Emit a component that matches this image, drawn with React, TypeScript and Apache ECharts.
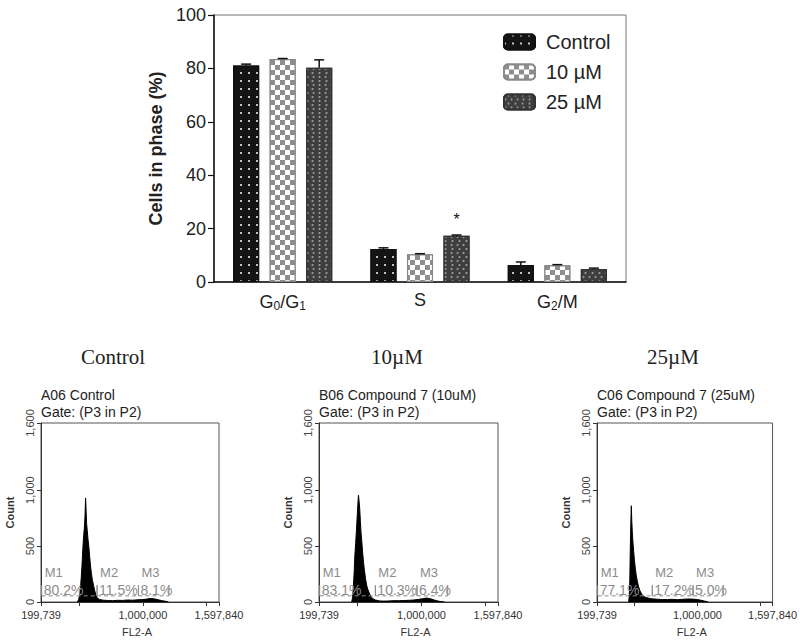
import React, { useEffect, useRef } from 'react';
import * as echarts from 'echarts';

// ---------- Top bar chart data ----------
const phaseCategories = ['G0/G1', 'S', 'G2/M'];
const seriesNames = ['Control', '10 µM', '25 µM'];
const controlPercent = [81.1, 12.4, 6.4];
const uM10Percent = [83.5, 10.4, 6.3];
const uM25Percent = [80.2, 17.3, 4.9];
const controlSem = [0.5, 0.4, 1.1];
const uM10Sem = [0.2, 0.2, 0.2];
const uM25Sem = [3.0, 0.3, 0.3];
const significanceMark = ['', '', ''];
const significanceMark25 = ['', '*', ''];
const percentTicks = [0, 20, 40, 60, 80, 100];

// ---------- Flow cytometry histograms (FL2-A value, count) ----------
const fl2Min = 199739;
const fl2Max = 1597840;
const fl2TickValues = [199739, 500000, 1000000, 1500000, 1597840];
const fl2LabelValues = [199739, 1000000, 1597840];
const countTickValues = [0, 500, 1000, 1600];

const controlHistogram = [
  [485000, 0], [495000, 20], [503000, 60], [510000, 130], [516000, 220], [522000, 330],
  [528000, 470], [534000, 580], [540000, 660], [545000, 760], [550000, 930], [554000, 820],
  [558000, 700], [563000, 640], [569000, 560], [575000, 500], [581000, 420], [588000, 330],
  [595000, 260], [603000, 200], [612000, 150], [622000, 100], [632000, 60], [642000, 35],
  [660000, 22], [690000, 16], [720000, 14], [760000, 12], [800000, 15], [840000, 14],
  [880000, 18], [920000, 16], [960000, 20], [1000000, 22], [1030000, 26], [1060000, 32],
  [1090000, 28], [1120000, 20], [1150000, 12], [1180000, 6], [1200000, 0]
];
const uM10Histogram = [
  [455000, 0], [462000, 40], [468000, 130], [474000, 260], [480000, 420], [486000, 520],
  [492000, 640], [498000, 760], [503000, 870], [508000, 955], [513000, 900], [518000, 830],
  [523000, 720], [528000, 620], [534000, 540], [540000, 450], [547000, 360], [555000, 280],
  [563000, 210], [572000, 150], [582000, 110], [592000, 80], [605000, 50], [620000, 30],
  [640000, 18], [670000, 10], [700000, 8], [740000, 9], [780000, 12], [820000, 12],
  [860000, 13], [900000, 15], [940000, 18], [980000, 24], [1010000, 30], [1040000, 35],
  [1070000, 30], [1100000, 18], [1130000, 8], [1160000, 3], [1180000, 0]
];
const uM25Histogram = [
  [452000, 0], [457000, 60], [461000, 200], [465000, 480], [469000, 700], [473000, 860],
  [477000, 720], [482000, 600], [487000, 520], [492000, 450], [498000, 370], [505000, 300],
  [512000, 240], [520000, 190], [530000, 140], [542000, 100], [556000, 70], [572000, 50],
  [590000, 40], [615000, 33], [640000, 28], [680000, 25], [720000, 22], [760000, 22],
  [800000, 24], [840000, 21], [880000, 24], [920000, 27], [960000, 26], [1000000, 22],
  [1030000, 15], [1060000, 7], [1085000, 0]
];

// M1 / M2 / M3 gates and their percentages
const gateNames = ['M1', 'M2', 'M3'];
const gateStarts = [205000, 640000, 965000];
const gateEnds = [640000, 965000, 1205000];
const controlGatePct = ['80.2%', '11.5%', '8.1%'];
const uM10GatePct = ['83.1%', '10.3%', '6.4%'];
const uM25GatePct = ['77.1%', '17.2%', '5.0%'];

const panelTitles = ['A06 Control', 'B06 Compound 7 (10uM)', 'C06 Compound 7 (25uM)'];
const panelGate = 'Gate: (P3 in P2)';
const columnHeadings = ['Control', '10µM', '25µM'];

const SANS = '"Liberation Sans", Arial, Helvetica, sans-serif';
const SERIF = '"Liberation Serif", "Times New Roman", serif';

function phaseLabel(v: string): string {
  let out = '';
  let buf = '';
  for (let i = 0; i < v.length; i++) {
    const c = v[i];
    if (/\d/.test(c) && i > 0 && v[i - 1] === 'G') {
      if (buf) out += '{n|' + buf + '}';
      buf = '';
      out += '{s|' + c + '}';
    } else {
      buf += c;
    }
  }
  if (buf) out += '{n|' + buf + '}';
  return out;
}

export default function App() {
  const ref = useRef<HTMLDivElement>(null);

  useEffect(() => {
    if (!ref.current) return;
    const chart = echarts.init(ref.current, undefined, { renderer: 'svg' });

    const barValues = [controlPercent, uM10Percent, uM25Percent];
    const semValues = [controlSem, uM10Sem, uM25Sem];
    const marks = [significanceMark, significanceMark, significanceMark25];

    const decals: any[] = [
      { symbol: 'rect', symbolSize: 1, color: 'rgba(255,255,255,0.75)', dashArrayX: [1.6, 5.4], dashArrayY: [1.6, 5.4] },
      { symbol: 'rect', symbolSize: 1, color: '#ffffff', dashArrayX: [[4.5, 4.5], [0, 4.5, 4.5, 0]], dashArrayY: [4.5, 0] },
      { symbol: 'circle', symbolSize: 1, color: '#9a9a9a', dashArrayX: [[2.5, 3], [0, 2.75, 2.5, 0.25]], dashArrayY: [2, 1.5] }
    ];
    const barColors = ['#141414', '#8e8e8e', '#3e3e3e'];
    const borderColors = ['#111', '#8a8a8a', '#333'];

    const barSeries: any[] = seriesNames.map((name, i) => ({
      type: 'bar',
      name,
      xAxisIndex: 0,
      yAxisIndex: 0,
      barWidth: '19%',
      barGap: '40%',
      data: barValues[i].map((v, j) =>
        marks[i][j]
          ? { value: v, label: { show: true, position: 'top', distance: 8, formatter: marks[i][j], fontSize: 16, color: '#111', fontFamily: SANS } }
          : v
      ),
      itemStyle: { color: barColors[i], borderColor: borderColors[i], borderWidth: 1.2, decal: decals[i] },
      emphasis: { disabled: true }
    }));

    const errorSeries: any[] = seriesNames.map((name, i) => ({
      type: 'custom',
      name: name + ' err',
      xAxisIndex: 0,
      yAxisIndex: 0,
      z: 5,
      silent: true,
      data: barValues[i].map((v, j) => [j, v, v + semValues[i][j]]),
      encode: { x: 0, y: [1, 2] },
      renderItem: (params: any, api: any) => {
        const band = api.size([1, 0])[0];
        const bw = band * 0.19;
        const off = (i - 1) * 1.4 * bw;
        const base = api.coord([api.value(0), api.value(1)]);
        const top = api.coord([api.value(0), api.value(2)]);
        const x = base[0] + off;
        const cap = 5;
        return {
          type: 'group',
          children: [
            { type: 'line', shape: { x1: x, y1: base[1], x2: x, y2: top[1] }, style: { stroke: '#111', lineWidth: 1.5 } },
            { type: 'line', shape: { x1: x - cap, y1: top[1], x2: x + cap, y2: top[1] }, style: { stroke: '#111', lineWidth: 1.5 } }
          ]
        };
      }
    }));

    const histData = [controlHistogram, uM10Histogram, uM25Histogram];
    const gatePcts = [controlGatePct, uM10GatePct, uM25GatePct];

    const histSeries: any[] = histData.map((d, k) => ({
      type: 'line',
      name: 'hist' + k,
      xAxisIndex: k + 1,
      yAxisIndex: k + 1,
      data: d,
      symbol: 'none',
      lineStyle: { color: '#000', width: 1 },
      areaStyle: { color: '#000', opacity: 1 },
      z: 3,
      silent: true
    }));

    const markerY = 55;
    const bracketTop = 150;
    const nameY = 262;
    const pctY = 108;
    const markerSeries: any[] = gatePcts.map((pcts, k) => ({
      type: 'custom',
      name: 'gates' + k,
      xAxisIndex: k + 1,
      yAxisIndex: k + 1,
      z: 4,
      silent: true,
      data: gateStarts.map((s, g) => [s, gateEnds[g], markerY]),
      encode: { x: [0, 1], y: 2 },
      renderItem: (params: any, api: any) => {
        const g = params.dataIndex;
        const s = api.coord([api.value(0), markerY]);
        const e = api.coord([api.value(1), markerY]);
        const bt = api.coord([api.value(0), bracketTop]);
        const ny = api.coord([api.value(0), nameY]);
        const py = api.coord([api.value(0), pctY]);
        const gray = '#8c8c8c';
        return {
          type: 'group',
          children: [
            { type: 'line', shape: { x1: s[0], y1: s[1], x2: e[0], y2: e[1] }, style: { stroke: gray, lineWidth: 1, lineDash: [4, 3] } },
            { type: 'line', shape: { x1: s[0], y1: s[1], x2: s[0], y2: bt[1] }, style: { stroke: gray, lineWidth: 1 } },
            { type: 'line', shape: { x1: e[0], y1: e[1], x2: e[0], y2: bt[1] }, style: { stroke: gray, lineWidth: 1 } },
            { type: 'text', x: s[0] + 3, y: ny[1], style: { text: gateNames[g], fill: gray, font: '13px ' + SANS, textVerticalAlign: 'middle' } },
            { type: 'text', x: s[0] + 2, y: py[1], style: { text: pcts[g], fill: gray, font: '14px ' + SANS, textVerticalAlign: 'middle' } }
          ]
        };
      }
    }));

    const histGrids = [
      { left: 41, top: 423, width: 178, height: 179 },
      { left: 319, top: 423, width: 179, height: 179 },
      { left: 597, top: 423, width: 179, height: 179 }
    ];

    const fmt = (v: number) => Math.round(v).toLocaleString('en-US');

    const histXAxes = histGrids.map((_, k) => ({
      type: 'value',
      gridIndex: k + 1,
      min: fl2Min,
      max: fl2Max,
      name: 'FL2-A',
      nameLocation: 'middle',
      nameGap: 24,
      nameTextStyle: { fontSize: 11, color: '#333', fontFamily: SANS, padding: [0, 0, 0, 14] },
      axisLine: { lineStyle: { color: '#333', width: 1 } },
      axisTick: { show: true, inside: false, length: 4, lineStyle: { color: '#333' }, customValues: fl2TickValues },
      axisLabel: { fontSize: 11, color: '#333', fontFamily: SANS, margin: 7, customValues: fl2LabelValues, formatter: fmt },
      splitLine: { show: false }
    }));
    const histYAxes = histGrids.map((_, k) => ({
      type: 'value',
      gridIndex: k + 1,
      min: 0,
      max: 1600,
      name: 'Count',
      nameLocation: 'middle',
      nameGap: 26,
      nameTextStyle: { fontSize: 11, color: '#333', fontFamily: SANS, fontWeight: 'bold' },
      axisLine: { show: true, lineStyle: { color: '#333', width: 1 } },
      axisTick: { show: true, length: 4, lineStyle: { color: '#333' }, customValues: countTickValues },
      axisLabel: { fontSize: 11, color: '#444', fontFamily: SANS, rotate: 90, margin: 6, customValues: countTickValues, formatter: fmt },
      splitLine: { show: false }
    }));

    const titles: any[] = panelTitles.map((t, k) => ({
      text: t,
      subtext: panelGate,
      left: histGrids[k].left,
      top: 388,
      padding: 0,
      itemGap: 3,
      textStyle: { fontSize: 14, fontWeight: 'normal', color: '#222', fontFamily: SANS },
      subtextStyle: { fontSize: 14, color: '#222', fontFamily: SANS }
    }));

    const headingX = [113, 397, 673];
    const graphics: any[] = columnHeadings.map((h, k) => ({
      type: 'text',
      x: headingX[k],
      y: 357,
      style: { text: h, font: '21px ' + SERIF, fill: '#222', textAlign: 'center', textVerticalAlign: 'middle' }
    }));

    chart.setOption({
      animation: false,
      backgroundColor: '#ffffff',
      title: titles,
      graphic: graphics,
      legend: {
        data: seriesNames,
        orient: 'vertical',
        left: 498,
        top: 27,
        itemWidth: 31,
        itemHeight: 15,
        itemGap: 10,
        selectedMode: false,
        textStyle: { fontSize: 20, color: '#222', fontFamily: SANS, padding: [0, 0, 0, 6] }
      },
      grid: [
        { left: 214, top: 15, width: 412, height: 267, show: true, borderColor: '#777', borderWidth: 1 },
        ...histGrids.map((g) => ({ ...g, show: true, borderColor: '#555', borderWidth: 1 }))
      ],
      xAxis: [
        {
          type: 'category',
          gridIndex: 0,
          data: phaseCategories,
          axisLine: { lineStyle: { color: '#111', width: 1.5 } },
          axisTick: { show: false },
          axisLabel: {
            margin: 9,
            formatter: (v: string) => phaseLabel(v),
            rich: {
              n: { fontSize: 18, color: '#222', fontFamily: SANS },
              s: { fontSize: 12, color: '#222', fontFamily: SANS, padding: [9, 0, 0, 0] }
            }
          }
        },
        ...histXAxes
      ],
      yAxis: [
        {
          type: 'value',
          gridIndex: 0,
          min: 0,
          max: 100,
          interval: 20,
          name: 'Cells in phase (%)',
          nameLocation: 'middle',
          nameGap: 46,
          nameTextStyle: { fontSize: 18, fontWeight: 'bold', color: '#222', fontFamily: SANS },
          axisLine: { show: true, lineStyle: { color: '#111', width: 1.5 } },
          axisTick: { show: true, length: 6, lineStyle: { color: '#111', width: 1.2 } },
          axisLabel: { fontSize: 18, color: '#222', fontFamily: SANS, margin: 8, customValues: percentTicks },
          splitLine: { show: false }
        },
        ...histYAxes
      ],
      series: [...barSeries, ...errorSeries, ...histSeries, ...markerSeries]
    });

    return () => chart.dispose();
  }, []);

  return <div ref={ref} style={{ position: 'fixed', left: 0, top: 0, width: 800, height: 643 }} />;
}
